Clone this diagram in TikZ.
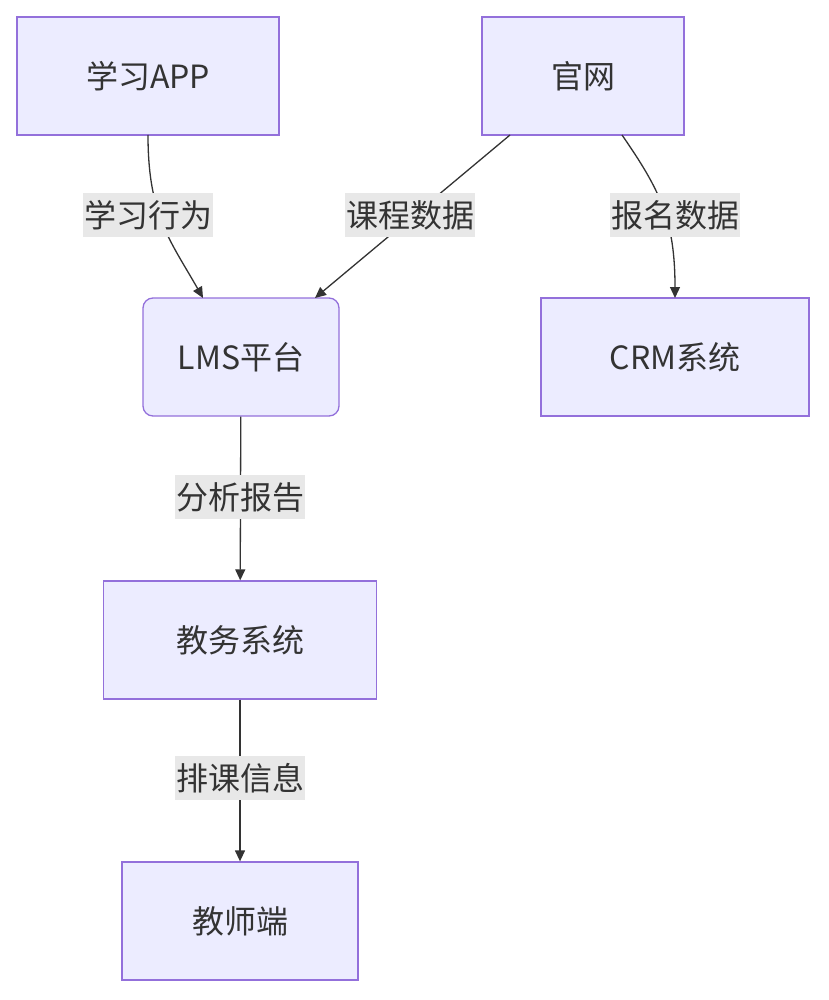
\documentclass[tikz,border=0pt]{standalone}
\usepackage{fontspec}
\setmainfont{Noto Sans CJK SC}
\usetikzlibrary{arrows.meta}
\begin{document}
\begin{tikzpicture}[x=1pt,y=-1pt,
  box/.style={draw=mybord,fill=myfill,line width=1.3pt,minimum height=118pt,text=mytext,font=\fontsize{32}{36}\selectfont,inner sep=0},
  lab/.style={fill=mylab,text=mytext,font=\fontsize{32}{36}\selectfont,inner sep=1pt,minimum height=44pt},
  arr/.style={draw=mytext,line width=1.3pt,-{Triangle[length=11pt,width=10pt]}}]
\definecolor{myfill}{HTML}{ECECFF}
\definecolor{mybord}{HTML}{9370DB}
\definecolor{mytext}{HTML}{333333}
\definecolor{mylab}{HTML}{E8E8E8}
\useasboundingbox (0,0) rectangle (828,1000);
\node[box,minimum width=262pt] (app) at (148,76) {学习APP};
\node[box,minimum width=202pt] (gw) at (583,76) {官网};
\node[box,minimum width=196pt,rounded corners=10pt] (lms) at (241,357) {LMS平台};
\node[box,minimum width=268pt] (crm) at (675,357) {CRM系统};
\node[box,minimum width=273pt] (jw) at (240,640) {教务系统};
\node[box,minimum width=236pt] (js) at (240,921) {教师端};
\draw[arr] (148,135) .. controls (148,215) and (170,240) .. (203,298);
\draw[arr] (510,135) -- (315,298);
\draw[arr] (622,135) .. controls (660,190) and (675,220) .. (675,298);
\draw[arr] (lms) -- (jw);
\draw[arr] (jw) -- (js);
\node[lab] at (148,215) {学习行为};
\node[lab] at (410,215) {课程数据};
\node[lab] at (675,215) {报名数据};
\node[lab] at (240,497) {分析报告};
\node[lab] at (240,778) {排课信息};
\end{tikzpicture}
\end{document}
